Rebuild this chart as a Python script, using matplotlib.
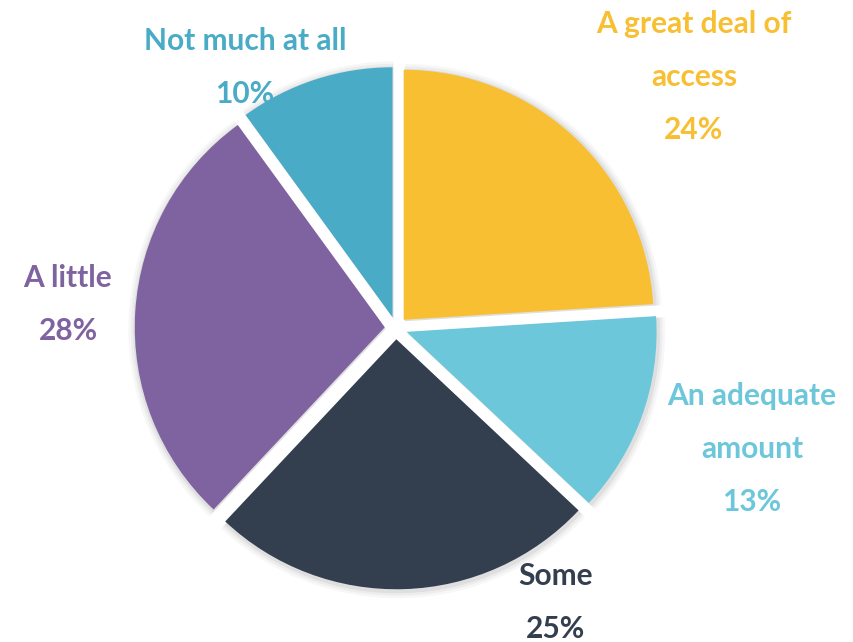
import matplotlib.pyplot as plt
import numpy as np

categories = ["A great deal of access", "An adequate amount", "Some", "A little", "Not much at all"]
values = [24, 13, 25, 28, 10]
label_lines = [["A great deal of", "access"], ["An adequate", "amount"], ["Some"], ["A little"], ["Not much at all"]]
colors = ["#F8BF33", "#6CC7DA", "#333F4F", "#7F63A0", "#4AABC6"]

W, H = 854, 642
CX, CY, R = 396, 328, 250  # pie centre and radius in pixels

fig = plt.figure(figsize=(W / 100, H / 100), dpi=100)
ax = fig.add_axes([0, 0, 1, 1])
ax.set_aspect("equal")
ax.axis("off")

explode = [0.045] * len(values)

# soft shadow under the wedges
for grow, a in [(0.030, 0.03), (0.020, 0.04), (0.010, 0.06)]:
    ax.pie(values, explode=explode, startangle=90, counterclock=False,
           colors=["#000000"] * len(values), radius=1 + grow,
           center=(0.004, -0.006), wedgeprops=dict(alpha=a, linewidth=0))

ax.pie(values, explode=explode, startangle=90, counterclock=False,
       colors=colors, radius=1.0, wedgeprops=dict(linewidth=0))
ax.set_xlim(-CX / R, (W - CX) / R)
ax.set_ylim(-(H - CY) / R, CY / R)

def px(x, y):
    return (x - CX) / R, (CY - y) / R

# label anchor (centre x, first line y) in pixels
anchors = [(694, 24), (752, 396), (556, 576), (68, 278), (245, 41)]
step = 53
for lines, v, c, (x, y) in zip(label_lines, values, colors, anchors):
    for i, t in enumerate(lines + [f"{v}%"]):
        ax.text(*px(x, y + i * step), t, ha="center", va="center",
                color=c, fontsize=21.5, fontweight="bold", family="Lato")

fig.savefig("out.png", dpi=100)
